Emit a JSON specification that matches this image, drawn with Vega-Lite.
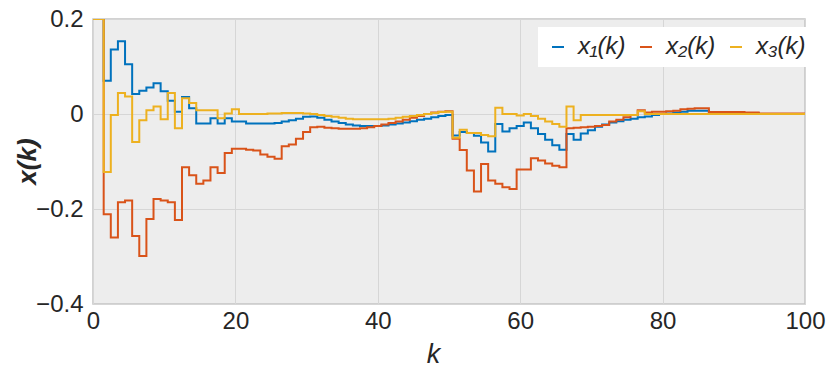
{
"$schema": "https://vega.github.io/schema/vega-lite/v6.json",
"width": 712, "height": 285,
"autosize": {"type": "none"},
"padding": {"left": 93, "top": 19, "right": 30, "bottom": 66},
"background": "white",
"config": {"view": {"fill": "#ededed", "stroke": "#c4c4c4", "strokeWidth": 1.5}, "font": "Liberation Sans"},
"data": {"values": [
{"k":0,"x1":0.2,"x2":0.2,"x3":0.2},
{"k":1,"x1":0.2,"x2":0.2,"x3":0.2},
{"k":2,"x1":0.07,"x2":-0.211,"x3":-0.122},
{"k":3,"x1":0.136,"x2":-0.26,"x3":-0.002},
{"k":4,"x1":0.153,"x2":-0.186,"x3":0.044},
{"k":5,"x1":0.105,"x2":-0.182,"x3":0.037},
{"k":6,"x1":0.042,"x2":-0.257,"x3":-0.059},
{"k":7,"x1":0.049,"x2":-0.299,"x3":-0.013},
{"k":8,"x1":0.056,"x2":-0.221,"x3":0.008},
{"k":9,"x1":0.065,"x2":-0.179,"x3":0.016},
{"k":10,"x1":0.048,"x2":-0.182,"x3":-0.011},
{"k":11,"x1":0.028,"x2":-0.186,"x3":0.044},
{"k":12,"x1":0.005,"x2":-0.223,"x3":-0.03},
{"k":13,"x1":0.036,"x2":-0.112,"x3":0.033},
{"k":14,"x1":0.012,"x2":-0.129,"x3":0.023},
{"k":15,"x1":-0.02,"x2":-0.147,"x3":0.008},
{"k":16,"x1":-0.02,"x2":-0.14,"x3":0.008},
{"k":17,"x1":-0.009,"x2":-0.112,"x3":0.008},
{"k":18,"x1":-0.02,"x2":-0.124,"x3":-0.009},
{"k":19,"x1":-0.009,"x2":-0.082,"x3":0.001},
{"k":20,"x1":-0.016,"x2":-0.073,"x3":0.01},
{"k":21,"x1":-0.016,"x2":-0.073,"x3":0.0},
{"k":22,"x1":-0.02,"x2":-0.075,"x3":0.0},
{"k":23,"x1":-0.02,"x2":-0.077,"x3":0.0},
{"k":24,"x1":-0.02,"x2":-0.085,"x3":0.0},
{"k":25,"x1":-0.02,"x2":-0.09,"x3":0.001},
{"k":26,"x1":-0.019,"x2":-0.094,"x3":0.001},
{"k":27,"x1":-0.016,"x2":-0.068,"x3":0.002},
{"k":28,"x1":-0.013,"x2":-0.064,"x3":0.002},
{"k":29,"x1":-0.01,"x2":-0.052,"x3":0.002},
{"k":30,"x1":-0.006,"x2":-0.038,"x3":0.001},
{"k":31,"x1":-0.005,"x2":-0.028,"x3":0.0},
{"k":32,"x1":-0.008,"x2":-0.027,"x3":-0.002},
{"k":33,"x1":-0.012,"x2":-0.029,"x3":-0.004},
{"k":34,"x1":-0.016,"x2":-0.03,"x3":-0.006},
{"k":35,"x1":-0.019,"x2":-0.031,"x3":-0.008},
{"k":36,"x1":-0.022,"x2":-0.031,"x3":-0.01},
{"k":37,"x1":-0.024,"x2":-0.031,"x3":-0.011},
{"k":38,"x1":-0.025,"x2":-0.03,"x3":-0.011},
{"k":39,"x1":-0.025,"x2":-0.028,"x3":-0.011},
{"k":40,"x1":-0.025,"x2":-0.025,"x3":-0.011},
{"k":41,"x1":-0.024,"x2":-0.022,"x3":-0.011},
{"k":42,"x1":-0.022,"x2":-0.019,"x3":-0.01},
{"k":43,"x1":-0.02,"x2":-0.016,"x3":-0.008},
{"k":44,"x1":-0.018,"x2":-0.012,"x3":-0.006},
{"k":45,"x1":-0.015,"x2":-0.008,"x3":-0.004},
{"k":46,"x1":-0.012,"x2":-0.004,"x3":-0.002},
{"k":47,"x1":-0.01,"x2":0.0,"x3":0.0},
{"k":48,"x1":-0.007,"x2":0.003,"x3":0.002},
{"k":49,"x1":-0.004,"x2":0.005,"x3":0.004},
{"k":50,"x1":-0.002,"x2":0.006,"x3":0.005},
{"k":51,"x1":-0.045,"x2":-0.052,"x3":-0.05},
{"k":52,"x1":-0.038,"x2":-0.076,"x3":-0.033},
{"k":53,"x1":-0.04,"x2":-0.119,"x3":-0.04},
{"k":54,"x1":-0.046,"x2":-0.163,"x3":-0.04},
{"k":55,"x1":-0.06,"x2":-0.105,"x3":-0.044},
{"k":56,"x1":-0.079,"x2":-0.14,"x3":-0.047},
{"k":57,"x1":-0.021,"x2":-0.147,"x3":0.013},
{"k":58,"x1":-0.037,"x2":-0.154,"x3":0.0},
{"k":59,"x1":-0.03,"x2":-0.158,"x3":0.0},
{"k":60,"x1":-0.025,"x2":-0.117,"x3":-0.003},
{"k":61,"x1":-0.018,"x2":-0.117,"x3":0.0},
{"k":62,"x1":-0.03,"x2":-0.093,"x3":-0.004},
{"k":63,"x1":-0.042,"x2":-0.098,"x3":-0.01},
{"k":64,"x1":-0.054,"x2":-0.104,"x3":-0.016},
{"k":65,"x1":-0.066,"x2":-0.109,"x3":-0.021},
{"k":66,"x1":-0.075,"x2":-0.112,"x3":-0.027},
{"k":67,"x1":-0.042,"x2":-0.03,"x3":0.016},
{"k":68,"x1":-0.054,"x2":-0.029,"x3":-0.013},
{"k":69,"x1":-0.041,"x2":-0.028,"x3":-0.002},
{"k":70,"x1":-0.034,"x2":-0.027,"x3":-0.002},
{"k":71,"x1":-0.027,"x2":-0.025,"x3":-0.002},
{"k":72,"x1":-0.022,"x2":-0.023,"x3":-0.002},
{"k":73,"x1":-0.018,"x2":-0.016,"x3":-0.002},
{"k":74,"x1":-0.015,"x2":-0.012,"x3":-0.002},
{"k":75,"x1":-0.012,"x2":-0.007,"x3":-0.002},
{"k":76,"x1":-0.01,"x2":-0.002,"x3":-0.002},
{"k":77,"x1":-0.007,"x2":0.008,"x3":0.006},
{"k":78,"x1":-0.005,"x2":0.003,"x3":0.0},
{"k":79,"x1":-0.002,"x2":0.005,"x3":0.0},
{"k":80,"x1":0.0,"x2":0.005,"x3":0.0},
{"k":81,"x1":0.001,"x2":0.006,"x3":0.0},
{"k":82,"x1":0.003,"x2":0.007,"x3":0.0},
{"k":83,"x1":0.005,"x2":0.01,"x3":0.0},
{"k":84,"x1":0.007,"x2":0.011,"x3":0.0},
{"k":85,"x1":0.007,"x2":0.012,"x3":0.0},
{"k":86,"x1":0.007,"x2":0.012,"x3":0.0},
{"k":87,"x1":0.003,"x2":0.004,"x3":0.0},
{"k":88,"x1":0.002,"x2":0.004,"x3":0.0},
{"k":89,"x1":0.002,"x2":0.004,"x3":0.0},
{"k":90,"x1":0.002,"x2":0.004,"x3":0.0},
{"k":91,"x1":0.002,"x2":0.004,"x3":0.0},
{"k":92,"x1":0.002,"x2":0.003,"x3":0.0},
{"k":93,"x1":0.002,"x2":0.003,"x3":0.0},
{"k":94,"x1":0.0,"x2":0.001,"x3":0.0},
{"k":95,"x1":0.0,"x2":0.001,"x3":0.0},
{"k":96,"x1":0.0,"x2":0.001,"x3":0.0},
{"k":97,"x1":0.0,"x2":0.001,"x3":0.0},
{"k":98,"x1":0.0,"x2":0.001,"x3":0.0},
{"k":99,"x1":0.0,"x2":0.001,"x3":0.0},
{"k":100,"x1":0.0,"x2":0.001,"x3":0.0}
]},
"transform": [{"fold": ["x1", "x2", "x3"], "as": ["series", "value"]}],
"mark": {"type": "line", "interpolate": "step", "strokeWidth": 2, "clip": true},
"encoding": {
  "x": {"field": "k", "type": "quantitative",
    "scale": {"domain": [0, 100], "nice": false},
    "axis": {"values": [0, 20, 40, 60, 80, 100], "title": "k", "titleFontStyle": "italic", "titleFontWeight": "normal", "titleFontSize": 27, "titleColor": "#262626", "titleX": 340, "titleY": 58, "titleBaseline": "alphabetic", "titleAlign": "center",
      "labelFontSize": 24, "labelColor": "#262626", "labelPadding": 5, "labelFlush": false,
      "grid": true, "gridColor": "#d6d6d6", "ticks": false, "domain": false}},
  "y": {"field": "value", "type": "quantitative",
    "scale": {"domain": [-0.4, 0.2], "nice": false, "zero": false},
    "axis": {"values": [-0.4, -0.2, 0, 0.2], "labelExpr": "datum.value == 0 ? '0' : format(datum.value, '.1f')",
      "title": "x(k)", "titleFontStyle": "italic", "titleFontWeight": "bold", "titleFontSize": 26, "titleColor": "#262626",
      "titleX": -66, "titleY": 142, "titleAngle": -90, "titleAlign": "center", "titleBaseline": "middle",
      "labelFontSize": 24, "labelColor": "#262626", "labelPadding": 10,
      "grid": true, "gridColor": "#d6d6d6", "ticks": false, "domain": false}},
  "color": {"field": "series", "type": "nominal",
    "scale": {"domain": ["x1", "x2", "x3"], "range": ["#0072BD", "#D95319", "#EDB120"]},
    "legend": {"orient": "none", "legendX": 445, "legendY": 8, "direction": "horizontal", "title": null,
      "labelExpr": "'x' + (datum.label == 'x1' ? '₁' : datum.label == 'x2' ? '₂' : '₃') + '(k)'",
      "symbolType": "stroke", "symbolSize": 144, "symbolStrokeWidth": 2,
      "labelFontSize": 24, "labelFontStyle": "italic", "labelColor": "#262626", "labelOffset": 8,
      "columnPadding": 8, "padding": 8, "fillColor": "white"}}
}
}
